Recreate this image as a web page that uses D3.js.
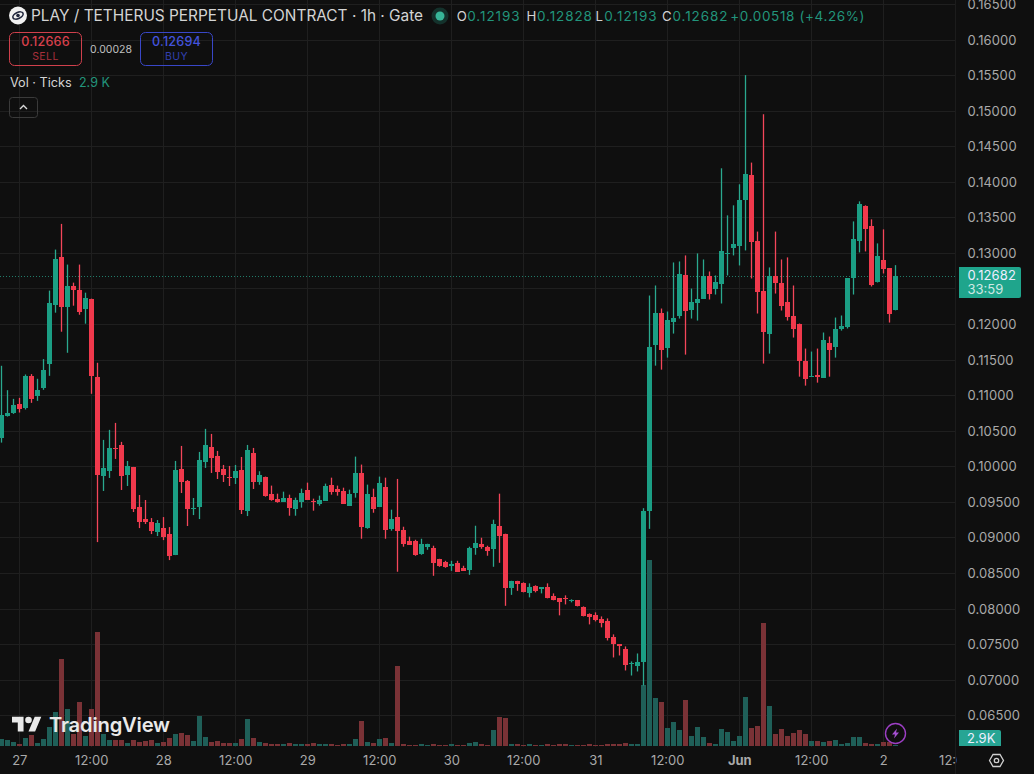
<!DOCTYPE html>
<html>
<head>
<meta charset="utf-8">
<script src="https://cdn.jsdelivr.net/npm/d3@7/dist/d3.min.js"></script>
<style>
html,body{margin:0;padding:0;background:#0f0f0f;overflow:hidden}
svg{display:block}
text{font-family:Inter,"Noto Sans",sans-serif}
</style>
</head>
<body>
<svg id="chart" width="1034" height="774"></svg>
<script>
// Hourly PLAY/USDT candles; the first candle sits 3 hours before the 27th at 00:00.
const firstHour = -3;
const opens = [
.10404,.10709,.10751,.10878,.10821,.11272,.10991,.11103,.11441,.12272,
.12948,.12244,.12540,.12484,.12216,.12357,.11258,.09864,.09934,.10258,
.10300,.09878,.09991,.09427,.09258,.09216,.09075,.09131,.09047,.08751,
.09962,.09793,.09400,.09427,.10061,.10272,.10145,.09962,.09850,.09836,
.09948,.09371,.10188,.09784,.09855,.09615,.09545,.09502,.09559,.09404,
.09502,.09671,.09516,.09474,.09516,.09742,.09685,.09657,.09446,.09629,
.09911,.09136,.09573,.09432,.09714,.09122,.09291,.09108,.08953,.08953,
.08765,.08869,.08854,.08699,.08657,.08601,.08643,.08573,.08545,.08854,
.08911,.08869,.08840,.09164,.09052,.08291,.08390,.08354,.08213,.08312,
.08270,.08298,.08171,.08143,.08143,.08101,.08115,.08016,.07918,.07904,
.07847,.07819,.07594,.07495,.07425,.07213,.07185,.07242,.09373,.11711,
.12162,.11669,.12035,.12120,.12683,.12204,.12289,.12359,.12669,.12499,
.12556,.12979,.13063,.13091,.13739,.14092,.13162,.12458,.11866,.12669,
.12584,.12303,.12120,.12007,.11486,.11260,.11288,.11246,.11739,.11683,
.11937,.11965,.12641,.13162,.13655,.13373,.12598,.12894,.12781,.12193];
const closes = [
.10723,.10751,.10864,.10803,.11272,.10948,.11075,.11357,.12300,.12920,
.12244,.12540,.12484,.12174,.12371,.11272,.09878,.09977,.10258,.10244,
.09864,.10005,.09400,.09216,.09216,.09089,.09202,.09005,.08737,.09948,
.09779,.09400,.09413,.10089,.10300,.10117,.09920,.09878,.09836,.09934,
.09385,.10230,.09779,.09883,.09587,.09531,.09502,.09559,.09418,.09531,
.09629,.09531,.09507,.09531,.09728,.09643,.09643,.09474,.09615,.09911,
.09150,.09615,.09404,.09770,.09108,.09263,.09094,.08911,.08897,.08751,
.08911,.08911,.08643,.08601,.08587,.08629,.08517,.08530,.08854,.08925,
.08869,.08812,.09193,.09024,.08291,.08390,.08347,.08227,.08298,.08242,
.08298,.08143,.08124,.08087,.08129,.08115,.08030,.07889,.07875,.07833,
.07791,.07580,.07495,.07472,.07199,.07227,.07242,.09368,.11683,.12162,
.11641,.12063,.12091,.12697,.12190,.12303,.12359,.12669,.12429,.12598,
.13021,.12993,.13120,.13739,.14106,.13148,.12444,.11894,.12669,.12584,
.12260,.12105,.11937,.11486,.11232,.11274,.11260,.11782,.11641,.11937,
.11979,.12641,.13190,.13683,.13331,.12542,.12950,.12767,.12148,.12682];
const highs = [
.11413,.11070,.10948,.10962,.11291,.11296,.11230,.11507,.12470,.13047,
.13408,.12836,.12582,.12836,.12441,.12357,.11455,.10371,.10512,.10610,
.10343,.10075,.09991,.09596,.09526,.09272,.09244,.09286,.09145,.10075,
.10286,.09807,.09554,.10202,.10526,.10455,.10216,.10019,.10005,.10019,
.10131,.10300,.10258,.09930,.09855,.09728,.09615,.09643,.09601,.09559,
.09685,.09770,.09545,.09587,.09756,.09840,.09728,.09699,.09671,.10136,
.10024,.09742,.09685,.09855,.09840,.09390,.09822,.09150,.09010,.08967,
.08981,.08911,.08883,.08699,.08671,.08671,.08671,.08601,.08869,.09164,
.08995,.08883,.09249,.09615,.09052,.08390,.08390,.08368,.08354,.08326,
.08298,.08354,.08213,.08143,.08185,.08129,.08115,.08030,.07932,.07946,
.07889,.07861,.07636,.07495,.07467,.07256,.07368,.09411,.12401,.12542,
.12218,.12176,.12866,.12880,.12965,.12499,.12993,.12908,.12739,.12683,
.14190,.13528,.13669,.13965,.15500,.14270,.13300,.14950,.12796,.13300,
.12908,.12937,.12542,.12007,.11655,.11613,.11655,.11881,.11824,.12091,
.12120,.12641,.13443,.13725,.13669,.13472,.13134,.13331,.12781,.12828];
const lows = [
.10333,.10699,.10737,.10756,.10798,.10892,.10920,.11075,.11272,.12160,
.11892,.11596,.12258,.12131,.12005,.11019,.08934,.09653,.09836,.10103,
.09667,.09723,.09357,.09131,.09188,.09047,.09019,.08962,.08681,.08751,
.09624,.09160,.09314,.09258,.09977,.09906,.09821,.09779,.09723,.09751,
.09329,.09300,.09681,.09740,.09573,.09516,.09488,.09502,.09305,.09305,
.09418,.09531,.09376,.09446,.09516,.09601,.09587,.09474,.09446,.09559,
.08981,.09122,.09347,.09432,.08981,.09094,.08517,.08869,.08897,.08742,
.08756,.08826,.08460,.08587,.08573,.08530,.08517,.08530,.08474,.08756,
.08840,.08742,.08587,.08643,.08038,.08192,.08249,.08227,.08157,.08227,
.08213,.08143,.08115,.07904,.08058,.08087,.08030,.07889,.07777,.07819,
.07735,.07551,.07312,.07340,.07129,.07058,.07115,.06918,.09120,.11415,
.11359,.11528,.11866,.12077,.11570,.12077,.12049,.12359,.12345,.12415,
.12289,.12683,.12965,.12824,.13035,.12641,.12148,.11444,.11584,.12429,
.12190,.12049,.11810,.11260,.11134,.11260,.11176,.11246,.11260,.11528,
.11908,.11937,.12415,.13007,.13021,.12528,.12584,.12711,.12021,.12193];
// Tick volume per hour, in thousands.
const volumes = [
21,18,12,6,24,33,9,21,57,102,
261,111,36,132,30,111,342,36,18,18,
18,9,18,12,15,18,9,12,24,36,
39,33,15,90,27,12,15,9,9,9,
21,81,24,12,9,6,6,6,9,6,
6,6,9,6,6,6,3,6,6,21,
75,12,9,21,24,9,240,6,3,3,
6,3,6,3,3,6,3,3,9,12,
6,3,48,87,84,6,6,3,6,3,
3,6,3,6,6,3,3,3,6,3,
3,6,6,6,9,6,6,183,558,144,
132,54,72,48,138,30,57,27,9,6,
51,42,15,30,147,54,60,369,120,36,
51,30,39,48,36,15,15,12,15,18,
6,9,27,27,9,6,6,12,12,2.9];

const timeTicks = [0,12,24,36,48,60,72,84,96,108,120,132,144,156];
const timeLabels = ["27","12:00","28","12:00","29","12:00","30","12:00","31","12:00","Jun","12:00","2","12:00"];
const priceTicks = d3.range(0,21).map(i => +(0.065 + i*0.005).toFixed(3));
// The 0.125 label would sit under the last-price tag, so only its gridline is kept.
const priceLabelTicks = priceTicks.filter(d => d !== 0.125);

const lastPrice = 0.12682;
const countdown = "33:59";
const lastVolumeLabel = "2.9K";
const title = "PLAY / TETHERUS PERPETUAL CONTRACT · 1h · Gate";
const ohlcLabels = ["O","H","L","C"];
const ohlcValues = ["0.12193","0.12828","0.12193","0.12682"];
const changeLabel = "+0.00518 (+4.26%)";

const COL = {bg:"#0f0f0f",grid:"#1f1f1f",sep:"#1c1c1c",up:"#1b9e84",down:"#f0394c",
  upWick:"#2aa98f",downWick:"#f4465a",
  upVol:"#1f5f58",downVol:"#7a3236",axis:"#a9a9a9",label:"#d4d4d4",teal:"#1fa58c",value:"#22957c"};

const svg = d3.select("#chart");
const plotRight = 955;

const x = d3.scaleLinear().domain([0,146]).range([19.3,895.3]);
const y = d3.scaleLinear().domain([0.065,0.165]).range([715.2,4]);
const v = d3.scaleLinear().domain([0,375]).range([746,621]);

svg.append("rect").attr("width",1034).attr("height",774).attr("fill",COL.bg);
const defs = svg.append("defs");
defs.append("clipPath").attr("id","plotClip").append("rect").attr("x",0).attr("y",0).attr("width",plotRight+1).attr("height",774);
defs.append("clipPath").attr("id","timeClip").append("rect").attr("x",0).attr("y",746).attr("width",plotRight+2).attr("height",28);

// Grid
const grid = svg.append("g").attr("shape-rendering","crispEdges");
grid.selectAll("line.h").data(priceTicks).join("line").attr("class","h")
  .attr("x1",0).attr("x2",plotRight).attr("y1",d=>Math.round(y(d))+.5).attr("y2",d=>Math.round(y(d))+.5)
  .attr("stroke",COL.grid);
grid.selectAll("line.v").data(timeTicks).join("line").attr("class","v")
  .attr("x1",d=>Math.floor(x(d))+.5).attr("x2",d=>Math.floor(x(d))+.5).attr("y1",0).attr("y2",747)
  .attr("stroke",COL.grid);
grid.append("line").attr("x1",plotRight+.5).attr("x2",plotRight+.5).attr("y1",0).attr("y2",774).attr("stroke",COL.sep);

// Candle and volume rows
const rows = opens.map((o,i)=>({hour:firstHour+i,o,c:closes[i],h:highs[i],l:lows[i],vol:volumes[i],up:closes[i]>=o}));

// Volume bars
svg.append("g").attr("shape-rendering","crispEdges").selectAll("rect").data(rows).join("rect")
  .attr("x",d=>Math.floor(x(d.hour))-2).attr("width",5)
  .attr("y",d=>v(d.vol)).attr("height",d=>v(0)-v(d.vol))
  .attr("fill",d=>d.up?COL.upVol:COL.downVol);

// Last price line
svg.append("line").attr("x1",0).attr("x2",plotRight).attr("y1",Math.round(y(lastPrice))+.5).attr("y2",Math.round(y(lastPrice))+.5)
  .attr("stroke",COL.upWick).attr("stroke-width",1).attr("stroke-dasharray","1 2").attr("opacity",.7);

// Candles
const candles = svg.append("g").attr("clip-path","url(#plotClip)");
candles.selectAll("rect.wick").data(rows).join("rect").attr("class","wick")
  .attr("x",d=>Math.floor(x(d.hour))-.15).attr("width",1.3)
  .attr("y",d=>y(d.h)).attr("height",d=>y(d.l)-y(d.h))
  .attr("fill",d=>d.up?COL.upWick:COL.downWick);
candles.selectAll("rect.body").data(rows).join("rect").attr("class","body")
  .attr("shape-rendering","crispEdges")
  .attr("x",d=>Math.floor(x(d.hour))-2).attr("width",5)
  .attr("y",d=>y(Math.max(d.o,d.c))).attr("height",d=>Math.max(1,Math.abs(y(d.o)-y(d.c))))
  .attr("fill",d=>d.up?COL.up:COL.down);

// Price axis
const yAxis = d3.axisRight(y).tickValues(priceLabelTicks).tickFormat(d3.format(".5f")).tickSize(0).tickPadding(0);
const yG = svg.append("g").attr("transform","translate(967.5,0.4)").call(yAxis);
yG.select(".domain").remove();
yG.selectAll("text").attr("fill",COL.axis).attr("font-size",13).attr("letter-spacing",".1px");

// Time axis
const xAxis = d3.axisBottom(x).tickValues(timeTicks).tickFormat((d,i)=>timeLabels[i]).tickSize(0).tickPadding(0);
const xG = svg.append("g").attr("clip-path","url(#timeClip)").append("g").attr("transform","translate(0,755.6)").call(xAxis);
xG.select(".domain").remove();
xG.selectAll("text").attr("fill",COL.axis).attr("font-size",13)
  .attr("font-weight",(d,i)=>timeLabels[i]==="Jun"?700:400);

// Last price tag
const tag = svg.append("g");
tag.append("path").attr("d","M959 267H1019a2 2 0 0 1 2 2V296a2 2 0 0 1 -2 2H959Z").attr("fill",COL.teal);
tag.append("text").attr("x",967.5).attr("y",y(lastPrice)+4.7).attr("fill","#eef").attr("font-size",13).attr("letter-spacing",".1px").text(d3.format(".5f")(lastPrice));
tag.append("text").attr("x",967.5).attr("y",293.7).attr("fill","#cfe9e4").attr("font-size",13).text(countdown);

// Current volume tag
tag.append("path").attr("d","M959 730H999a2 2 0 0 1 2 2V746H959Z").attr("fill","#27a594");
tag.append("text").attr("x",967).attr("y",742.7).attr("fill","#eef").attr("font-size",13).text(lastVolumeLabel);

// Settings glyph
const gear = svg.append("g").attr("transform","translate(996.5,760.5)").attr("fill","none").attr("stroke","#cfcfcf").attr("stroke-width",1.3);
gear.append("path").attr("d","M-7 0L-3.5 -6H3.5L7 0L3.5 6H-3.5Z");
gear.append("circle").attr("r",2.2);

// Bolt badge
const bolt = svg.append("g").attr("transform","translate(895.5,733.5)");
bolt.append("circle").attr("r",10).attr("fill","#0f0f0f").attr("fill-opacity",.55).attr("stroke","#9c3fc4").attr("stroke-width",1.4);
bolt.append("path").attr("d","M1.5 -5L-3.5 1H-0.5L-1.5 5L3.5 -1H0.5Z").attr("fill","#a44fd0");

// Wordmark
const mark = svg.append("g").attr("fill","#e9e9e9");
const glyph = mark.append("g").attr("transform","translate(12,713.4) scale(.825)");
glyph.append("path").attr("d","M14 22H7V11H0V4h14v18zM28 22h-8l7.5-18h8L28 22z");
glyph.append("circle").attr("cx",20).attr("cy",8).attr("r",4);
mark.append("text").attr("x",49).attr("y",732).attr("font-size",20.2).attr("font-weight",600).attr("letter-spacing","-.2px").text("TradingView");

// Header
const head = svg.append("g");
head.append("circle").attr("cx",18).attr("cy",15.5).attr("r",9).attr("fill","#f1f1f1");
head.append("ellipse").attr("cx",18).attr("cy",15.5).attr("rx",5.5).attr("ry",3).attr("fill","none").attr("stroke","#20263c").attr("stroke-width",1.6).attr("transform","rotate(-25 18 15.5)");
head.append("circle").attr("cx",18).attr("cy",15.5).attr("r",1.8).attr("fill","#20263c");
head.append("text").attr("x",31).attr("y",21).attr("font-size",15.4).attr("fill",COL.label).text(title);
head.append("circle").attr("cx",440).attr("cy",16).attr("r",8.5).attr("fill","#14322c");
head.append("circle").attr("cx",440).attr("cy",16).attr("r",4.5).attr("fill","#37b598");

// OHLC readout, one key and value per slot
const ohlcKeyX = d3.scaleOrdinal().domain(ohlcLabels).range([456.7,526.5,595.5,662]);
const ohlcValX = d3.scaleOrdinal().domain(ohlcLabels).range([467.3,537,604.3,672.5]);
ohlcLabels.forEach((k,i)=>{
  head.append("text").attr("x",ohlcKeyX(k)).attr("y",21).attr("font-size",13.2).attr("fill",COL.label).text(k);
  head.append("text").attr("x",ohlcValX(k)).attr("y",21).attr("font-size",13.5).attr("letter-spacing",".9px").attr("fill",COL.value).text(ohlcValues[i]);
});
head.append("text").attr("x",730.3).attr("y",21).attr("font-size",13.5).attr("letter-spacing",".62px").attr("fill",COL.value).text(changeLabel);

function quote(x0,stroke,priceFill,labelFill,price,label){
  head.append("rect").attr("x",x0+.5).attr("y",32.5).attr("width",72).attr("height",33).attr("rx",5).attr("fill","none").attr("stroke",stroke);
  head.append("text").attr("x",x0+36.5).attr("y",46).attr("text-anchor","middle").attr("font-size",12.6).attr("font-weight",500).attr("letter-spacing",".2px").attr("fill",priceFill).text(price);
  head.append("text").attr("x",x0+36.5).attr("y",60).attr("text-anchor","middle").attr("font-size",10.5).attr("letter-spacing",".4px").attr("fill",labelFill).text(label);
}
quote(9,"#d0404c","#d8404c","#a8303c","0.12666","SELL");
quote(140,"#3947c8","#4353dc","#3240b0","0.12694","BUY");
head.append("text").attr("x",111).attr("y",53).attr("text-anchor","middle").attr("font-size",10.5).attr("fill","#c0c0c0").text("0.00028");

head.append("text").attr("x",10).attr("y",87).attr("font-size",12.7).attr("fill",COL.label).text("Vol · Ticks");
head.append("text").attr("x",79).attr("y",87).attr("font-size",12.5).attr("fill",COL.value).text("2.9 K");

head.append("rect").attr("x",9.5).attr("y",97.5).attr("width",28).attr("height",20).attr("rx",3).attr("fill","none").attr("stroke","#3a3a3a");
head.append("path").attr("d","M20 109L23.5 105.5L27 109").attr("fill","none").attr("stroke","#d8d8d8").attr("stroke-width",1.4);
</script>
</body>
</html>
